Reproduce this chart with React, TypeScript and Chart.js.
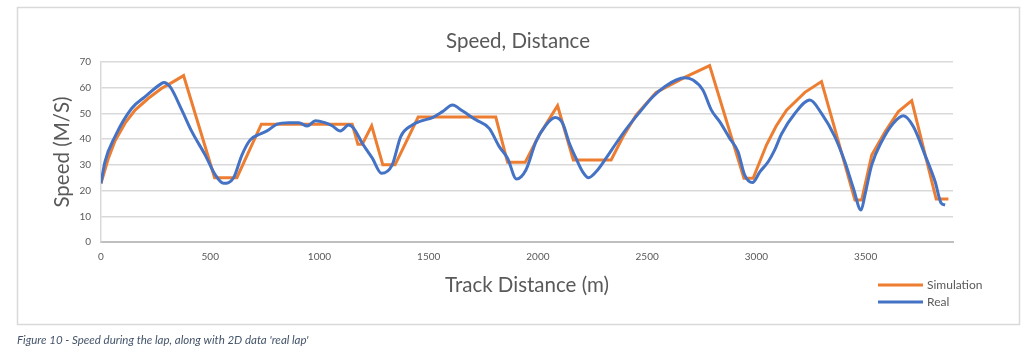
import { useEffect, useRef } from "react";
import { Chart, registerables } from "chart.js";

Chart.register(...registerables);

const W = 1030;
const H = 360;

const TITLE = "Speed, Distance";
const Y_TITLE = "Speed (M/S)";
const X_TITLE = "Track Distance (m)";
const CAPTION = "Figure 10 - Speed during the lap, along with 2D data 'real lap'";

const xTicks = [0, 500, 1000, 1500, 2000, 2500, 3000, 3500];
const yTicks = [0, 10, 20, 30, 40, 50, 60, 70];

const simDist = [
  0, 34, 64, 110, 156, 217, 278, 324, 378, 520, 622, 734, 1150, 1176, 1196, 1239, 1290, 1346,
  1452, 1807, 1861, 1942, 1975, 2006, 2090, 2162, 2335, 2390, 2450, 2541, 2679, 2786, 2943, 2985,
  3046, 3090, 3138, 3222, 3298, 3451, 3482, 3528, 3589, 3650, 3711, 3823, 3879,
];
const simSpeed = [
  22.8, 32.6, 39.3, 46.2, 51.3, 55.9, 59.8, 62.0, 64.7, 25.0, 25.0, 45.8, 45.8, 38.0, 38.0, 45.2,
  30.0, 30.0, 48.6, 48.6, 31.0, 31.0, 36.5, 41.6, 53.0, 31.9, 31.9, 41.0, 49.4, 58.2, 64.3, 68.6,
  24.8, 24.8, 37.7, 45.0, 51.3, 58.2, 62.4, 16.3, 16.3, 33.8, 42.9, 50.7, 55.0, 16.7, 16.7,
];

const realDist = [
  0, 18, 64, 141, 202, 278, 288, 316, 370, 416, 477, 523, 561,
  607, 645, 683, 729, 760, 806, 859, 905, 944, 982, 1028,
  1058, 1096, 1134, 1157, 1196, 1242, 1284, 1333, 1372, 1425, 1471, 1517, 1563, 1609,
  1654, 1716, 1777, 1823, 1861, 1902, 1945, 1991, 2037, 2079, 2113, 2144, 2174, 2205, 2232,
  2266, 2312, 2358, 2404, 2465, 2526, 2580, 2633, 2671, 2710, 2755, 2794, 2832, 2878, 2916, 2946, 2982,
  3016, 3054, 3085, 3115, 3176, 3245, 3298, 3359, 3405, 3444, 3479, 3497, 3528, 3573, 3627, 3673,
  3719, 3772, 3818, 3846, 3864,
];
const realSpeed = [
  22.8, 31.2, 41.0, 52.0, 56.5, 61.7, 62.0, 60.4, 51.3, 42.9, 33.8, 26.1, 22.8,
  25.0, 33.8, 39.7, 42.0, 43.2, 45.8, 46.4, 46.4, 45.1, 47.2, 46.3,
  45.2, 43.2, 45.5, 44.2, 38.4, 32.6, 26.7, 30.0, 41.0, 45.5, 47.2, 48.4, 50.7, 53.3,
  51.0, 47.5, 44.2, 37.1, 32.6, 24.5, 28.0, 39.0, 45.5, 48.4, 46.2, 38.4, 32.6, 27.3, 25.0,
  27.3, 32.6, 38.4, 43.9, 50.4, 56.5, 60.4, 63.0, 63.9, 63.0, 59.1, 51.3, 46.8, 40.3, 35.1, 26.1, 23.1,
  27.3, 31.2, 36.0, 42.0, 50.0, 55.2, 50.0, 41.0, 31.2, 20.9, 12.4, 18.3, 30.0, 39.0, 46.2, 49.1,
  44.8, 33.8, 23.5, 15.1, 14.4,
];

const SIM_COLOR = "#ED7D31";
const REAL_COLOR = "#4472C4";
const TEXT = "#595959";
const GRID = "#d9d9d9";
const FONT = "Lato, 'Open Sans', sans-serif";

const decorPlugin = {
  id: "decor",
  afterDraw(chart: any) {
    const ctx = chart.ctx as CanvasRenderingContext2D;
    const area = chart.chartArea;
    ctx.save();
    // outer frame
    ctx.strokeStyle = GRID;
    ctx.lineWidth = 1.5;
    ctx.strokeRect(17.5, 7.5, 1002, 317);

    ctx.fillStyle = TEXT;
    ctx.textAlign = "center";
    ctx.textBaseline = "middle";
    // title
    ctx.font = `20.5px ${FONT}`;
    ctx.fillText(TITLE, 518, 41);
    // x title
    ctx.font = `20.5px ${FONT}`;
    ctx.fillText(X_TITLE, (area.left + area.right) / 2, 285);
    // y title
    ctx.save();
    ctx.translate(62, (area.top + area.bottom) / 2);
    ctx.rotate(-Math.PI / 2);
    ctx.fillText(Y_TITLE, 0, 0);
    ctx.restore();

    // legend
    ctx.textAlign = "left";
    ctx.font = `12px ${FONT}`;
    chart.data.datasets.forEach((ds: any, i: number) => {
      const y = 285 + i * 17;
      ctx.strokeStyle = ds.borderColor;
      ctx.lineWidth = 3;
      ctx.beginPath();
      ctx.moveTo(878, y);
      ctx.lineTo(923, y);
      ctx.stroke();
      ctx.fillStyle = TEXT;
      ctx.fillText(ds.label, 927, y);
    });

    // caption
    ctx.fillStyle = "#44546A";
    ctx.font = `italic 11.5px ${FONT}`;
    ctx.fillText(CAPTION, 17, 340);
    ctx.restore();
  },
};

export default function App() {
  const ref = useRef<HTMLCanvasElement>(null);

  useEffect(() => {
    const canvas = ref.current;
    if (!canvas) return;
    const chart = new Chart(canvas, {
      type: "line",
      data: {
        datasets: [
          {
            label: "Simulation",
            data: simDist.map((d, i) => ({ x: d, y: simSpeed[i] })),
            borderColor: SIM_COLOR,
            backgroundColor: SIM_COLOR,
            borderWidth: 3,
            pointRadius: 0,
            tension: 0,
            order: 1,
          },
          {
            label: "Real",
            data: realDist.map((d, i) => ({ x: d, y: realSpeed[i] })),
            borderColor: REAL_COLOR,
            backgroundColor: REAL_COLOR,
            borderWidth: 3,
            pointRadius: 0,
            cubicInterpolationMode: "monotone",
            order: 0,
          },
        ],
      },
      options: {
        responsive: false,
        animation: false,
        layout: { padding: { left: 0, right: 77, top: 62, bottom: 88 } },
        plugins: {
          legend: { display: false },
          title: { display: false },
          tooltip: { enabled: false },
        },
        scales: {
          x: {
            type: "linear",
            min: 0,
            max: 3900,
            afterBuildTicks: (s: any) => {
              s.ticks = xTicks.map((v) => ({ value: v }));
            },
            afterFit: (s: any) => {
              s.height = 30;
            },
            grid: { display: false, drawTicks: false },
            border: { display: true, color: "#bfbfbf", width: 2 },
            ticks: {
              color: TEXT,
              padding: 9,
              maxRotation: 0,
              autoSkip: false,
              font: { family: FONT, size: 10 },
              callback: (v: any) => String(v),
            },
          },
          y: {
            min: 0,
            max: 70,
            afterBuildTicks: (s: any) => {
              s.ticks = yTicks.map((v) => ({ value: v }));
            },
            afterFit: (s: any) => {
              s.width = 101;
            },
            grid: { color: GRID, lineWidth: 1.5, drawTicks: false },
            border: { display: true, color: GRID, width: 1.5 },
            ticks: {
              color: TEXT,
              padding: 10,
              font: { family: FONT, size: 10 },
              callback: (v: any) => String(v),
            },
          },
        },
      },
      plugins: [decorPlugin],
    });
    return () => chart.destroy();
  }, []);

  return (
    <div style={{ position: "absolute", left: 0, top: 0, width: W, height: H, background: "#fff" }}>
      <canvas ref={ref} width={W} height={H} style={{ width: W, height: H, display: "block" }} />
    </div>
  );
}
